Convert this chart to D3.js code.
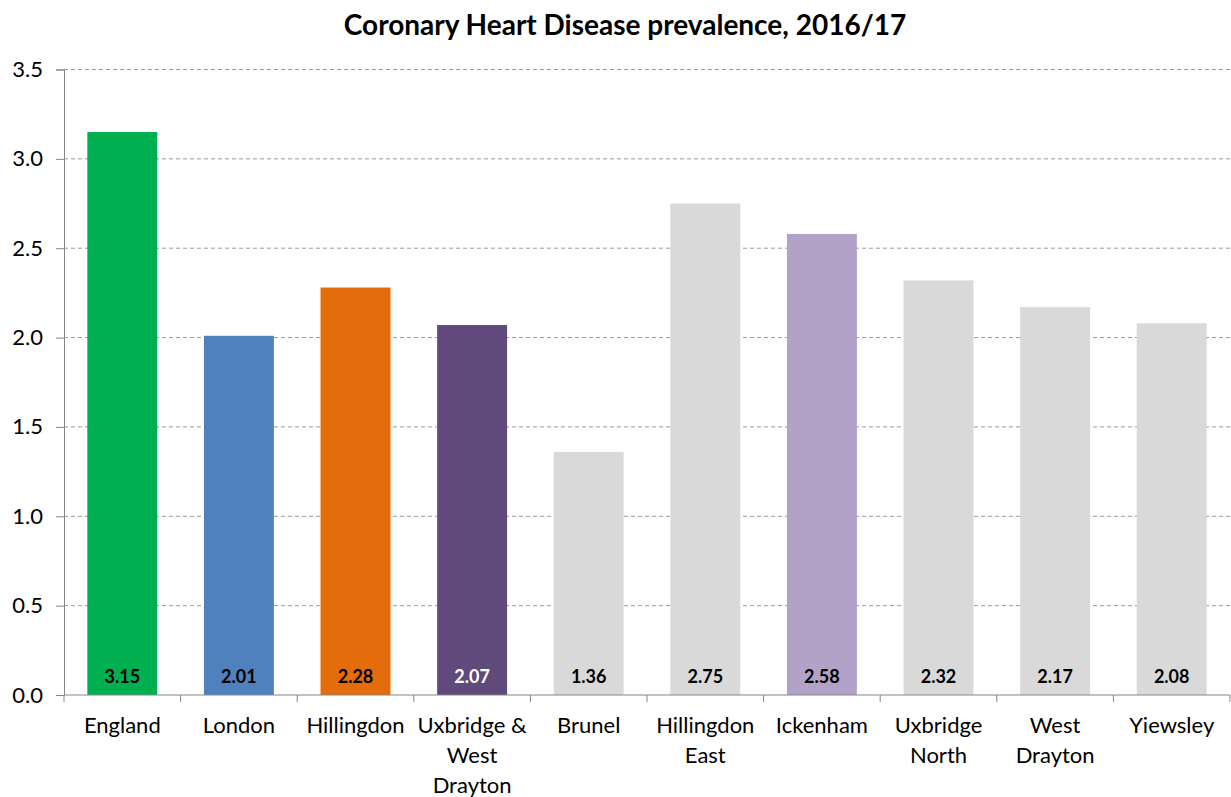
<!DOCTYPE html>
<html>
<head>
<meta charset="utf-8">
<script src="https://cdn.jsdelivr.net/npm/d3@7"></script>
<style>
  body { margin: 0; background: #fff; }
  svg { font-family: Lato, "Open Sans", sans-serif; }
  .grid line { stroke: #9a9a9a; stroke-dasharray: 4 3; }
</style>
</head>
<body>
<svg id="chart" width="1231" height="797"></svg>
<script>
const areas = ['England', 'London', 'Hillingdon', 'Uxbridge & West Drayton', 'Brunel',
  'Hillingdon East', 'Ickenham', 'Uxbridge North', 'West Drayton', 'Yiewsley']
const labelLines = [['England'], ['London'], ['Hillingdon'], ['Uxbridge &', 'West', 'Drayton'], ['Brunel'],
  ['Hillingdon', 'East'], ['Ickenham'], ['Uxbridge', 'North'], ['West', 'Drayton'], ['Yiewsley']]
const prevalence = [3.15, 2.01, 2.28, 2.07, 1.36, 2.75, 2.58, 2.32, 2.17, 2.08]
const barColours = ['#00b050', '#4f81bd', '#e46c0a', '#604a7b', '#d9d9d9',
  '#d9d9d9', '#b3a2c7', '#d9d9d9', '#d9d9d9', '#d9d9d9']
const yTicks = [0, 0.5, 1, 1.5, 2, 2.5, 3, 3.5]

const svg = d3.select('#chart')
const plotLeft = 64, plotRight = 1230, plotTop = 69.5, plotBottom = 695

const x = d3.scaleBand().domain(areas).range([plotLeft, plotRight]).paddingInner(0.4).paddingOuter(0.2)
const y = d3.scaleLinear().domain([0, 3.5]).range([plotBottom, plotTop])

svg.append('text')
  .attr('x', 625).attr('y', 35)
  .attr('text-anchor', 'middle')
  .attr('font-size', 28).attr('font-weight', 'bold')
  .attr('fill', '#000')
  .text('Coronary Heart Disease prevalence, 2016/17')

// gridlines
svg.append('g').attr('class', 'grid')
  .selectAll('line').data(yTicks.filter(d => d > 0))
  .enter().append('line')
    .attr('x1', plotLeft).attr('x2', 1231)
    .attr('y1', d => y(d)).attr('y2', d => y(d))

// bars
svg.append('g').selectAll('rect').data(prevalence)
  .enter().append('rect')
    .attr('x', (d, i) => x(areas[i]))
    .attr('width', x.bandwidth())
    .attr('y', d => y(d))
    .attr('height', d => y(0) - y(d))
    .attr('fill', (d, i) => barColours[i])

// value labels
svg.append('g').selectAll('text').data(prevalence)
  .enter().append('text')
    .attr('x', (d, i) => x(areas[i]) + x.bandwidth() / 2)
    .attr('y', y(0) - 12)
    .attr('text-anchor', 'middle')
    .attr('font-size', 18).attr('font-weight', 'bold')
    .attr('fill', (d, i) => i === 3 ? '#fff' : '#000')
    .text(d => d.toFixed(2))

// y axis
const yAxis = svg.append('g')
  .attr('transform', `translate(${plotLeft},0)`)
  .call(d3.axisLeft(y).tickValues(yTicks).tickFormat(d3.format('.1f')).tickSizeOuter(0).tickSize(8).tickPadding(13))
yAxis.selectAll('line, path').attr('stroke', '#868686')
yAxis.selectAll('text').attr('font-size', 22).attr('fill', '#000').attr('font-family', 'Lato, sans-serif')

// x axis
const xAxis = svg.append('g')
  .attr('transform', `translate(0,${plotBottom})`)
xAxis.append('line')
  .attr('x1', plotLeft).attr('x2', plotRight)
  .attr('stroke', '#868686')
const step = x.step()
xAxis.selectAll('line.tick').data(d3.range(areas.length + 1))
  .enter().append('line')
    .attr('class', 'tick')
    .attr('x1', i => plotLeft + i * step).attr('x2', i => plotLeft + i * step)
    .attr('y1', 0).attr('y2', 7)
    .attr('stroke', '#868686')

xAxis.selectAll('text').data(areas)
  .enter().append('text')
    .attr('x', d => x(d) + x.bandwidth() / 2)
    .attr('y', 38)
    .attr('text-anchor', 'middle')
    .attr('font-size', 22).attr('fill', '#000')
    .each(function (d, i) {
      d3.select(this).selectAll('tspan').data(labelLines[i])
        .enter().append('tspan')
          .attr('x', x(d) + x.bandwidth() / 2)
          .attr('dy', (t, j) => j === 0 ? 0 : 30)
          .text(t => t)
    })
</script>
</body>
</html>
